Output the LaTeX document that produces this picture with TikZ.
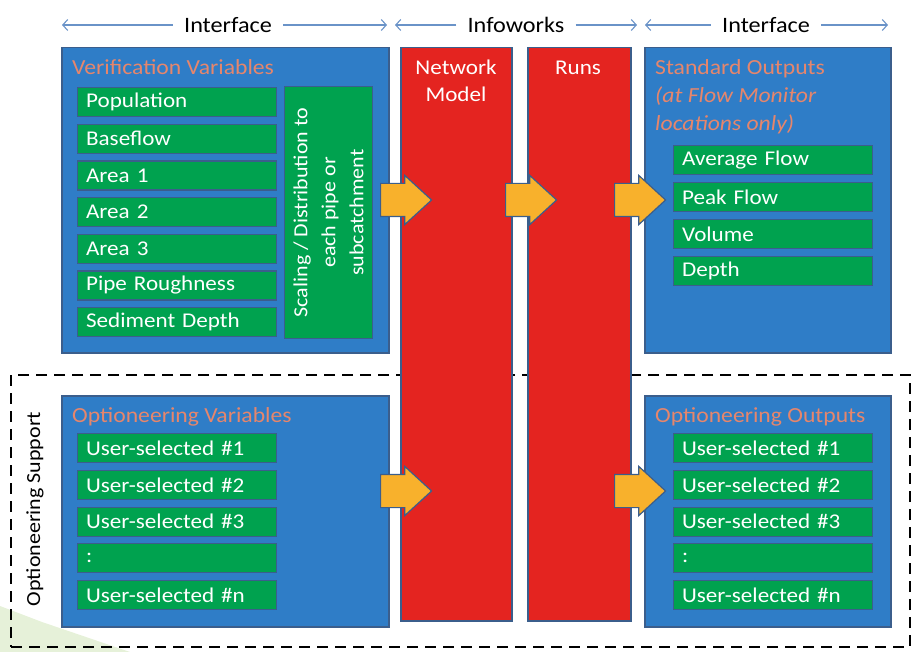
\documentclass[tikz,border=0pt]{standalone}
\usepackage{fontspec}
\setmainfont{Carlito}[FakeStretch=1.1]
\usetikzlibrary{arrows.meta,shapes.arrows,positioning}
\definecolor{panelblue}{HTML}{2F7DC7}
\definecolor{edgeblue}{HTML}{3B5E8C}
\definecolor{itemgreen}{HTML}{00A24F}
\definecolor{runred}{HTML}{E42420}
\definecolor{flowgold}{HTML}{F8B12C}
\definecolor{titlesalmon}{HTML}{E6866C}
\definecolor{hdrblue}{HTML}{6A93C8}
\definecolor{palegreen}{HTML}{E6F1D9}

\begin{document}
\begin{tikzpicture}
	[
	x = 1pt, y = -1pt,
	> = {Straight Barb[length=5pt,width=11pt]},
	panel/.style = {draw=edgeblue, line width=1.5pt, fill=panelblue, anchor=north west, inner sep=0pt},
	runbox/.style = {draw=edgeblue, line width=1.5pt, fill=runred, anchor=north west, inner sep=0pt},
	greenbox/.style = {draw=edgeblue, line width=1.2pt, fill=itemgreen, text=white, anchor=north west},
	item/.style = {greenbox, minimum height=29pt, text width=182pt, inner xsep=8.5pt, inner ysep=0pt, align=left, font=\fontsize{21}{23}\selectfont},
	title/.style = {text=titlesalmon, anchor=base west, inner sep=0pt, font=\fontsize{21.5}{23}\selectfont},
	runtext/.style = {text=white, anchor=base, inner sep=0pt, font=\fontsize{21}{23}\selectfont},
	hdr/.style = {inner xsep=11pt, font=\fontsize{22}{24}\selectfont},
	hline/.style = {draw=hdrblue, line width=1.1pt, ->},
	flow/.style = {single arrow, draw=edgeblue, fill=flowgold, line width=1.2pt, minimum height=51pt, inner xsep=0pt, inner ysep=16pt, single arrow head extend=8pt, single arrow tip angle=85, anchor=tail}
	]
		\useasboundingbox (0,0) rectangle (915,652);
		\fill[palegreen] (0,606) -- (42,622) -- (130,652) -- (0,652) -- cycle;

		% header
		\node[hdr] (ifleft) at (228,25) {Interface};
		\node[hdr] (iworks) at (516,25) {Infoworks};
		\node[hdr] (ifright) at (766,25) {Interface};
		\coordinate (ifleft-a) at (62,25);
		\coordinate (ifleft-b) at (387,25);
		\coordinate (iworks-a) at (395,25);
		\coordinate (iworks-b) at (637,25);
		\coordinate (ifright-a) at (645,25);
		\coordinate (ifright-b) at (888,25);
		\foreach \h in {ifleft, iworks, ifright}
		{
			\draw[hline] (\h) -- (\h-a);
			\draw[hline] (\h) -- (\h-b);
		}

		% optioneering support
		\node[draw, line width=2.2pt, dash pattern=on 11pt off 7pt, anchor=north west, inner sep=0pt, minimum width=899pt, minimum height=272pt] (support) at (10,374) {};
		\node[rotate=90, font=\fontsize{20}{22}\selectfont] (supportlbl) at (35,509) {Optioneering Support};

		% panels
		\node[panel, minimum width=327pt, minimum height=305pt] (verif) at (61,47) {};
		\node[panel, minimum width=246pt, minimum height=305pt] (stdout) at (644,47) {};
		\node[panel, minimum width=327pt, minimum height=231pt] (optvar) at (61,395) {};
		\node[panel, minimum width=246pt, minimum height=231pt] (optout) at (644,395) {};
		\node[runbox, minimum width=111pt, minimum height=573pt] (netmodel) at (400,47) {};
		\node[runbox, minimum width=103pt, minimum height=573pt] (runs) at (527,47) {};

		\node[title] (verif-t) at (72,75) {Verification Variables};
		\node[title] (stdout-t) at (655,75) {Standard Outputs};
		\node[title] (stdout-t2) at (655,103) {\itshape (at Flow Monitor};
		\node[title] (stdout-t3) at (655,131) {\itshape locations only)};
		\node[title] (optvar-t) at (72,422) {Optioneering Variables};
		\node[title] (optout-t) at (655,422) {Optioneering Outputs};
		\node[runtext] (netmodel-t) at (456,75) {Network};
		\node[runtext] (netmodel-t2) at (456,102) {Model};
		\node[runtext] (runs-t) at (578,75) {Runs};

		% items
		\foreach \t [count=\i from 0] in {Population, Baseflow, Area 1, Area 2, Area 3, Pipe Roughness, Sediment Depth}
			\node[item] (vv\i) at (77,87+36.67*\i) {\t};
		\node[greenbox, minimum width=88pt, minimum height=252pt, inner sep=0pt] (scaling) at (284,86) {};
		\node[rotate=90, text=white, align=center, font=\fontsize{20}{28}\selectfont] (scaling-t) at (scaling.center) {Scaling / Distribution to\\each pipe or\\subcatchment};
		\foreach \t [count=\i from 0] in {Average Flow, Peak Flow, Volume, Depth}
			\node[item] (so\i) at (673,145+37*\i) {\t};
		\foreach \t [count=\i from 0] in {User-selected \#1, User-selected \#2, User-selected \#3, :, User-selected \#n}
		{
			\node[item] (ov\i) at (77,433+36.75*\i) {\t};
			\node[item] (oo\i) at (673,433+36.75*\i) {\t};
		}

		% flow arrows
		\node[flow] (f1) at (380,200) {};
		\node[flow] (f2) at (505,200) {};
		\node[flow] (f3) at (614,200) {};
		\node[flow] (f4) at (380,491) {};
		\node[flow] (f5) at (614,491) {};
	\end{tikzpicture}
\end{document}
